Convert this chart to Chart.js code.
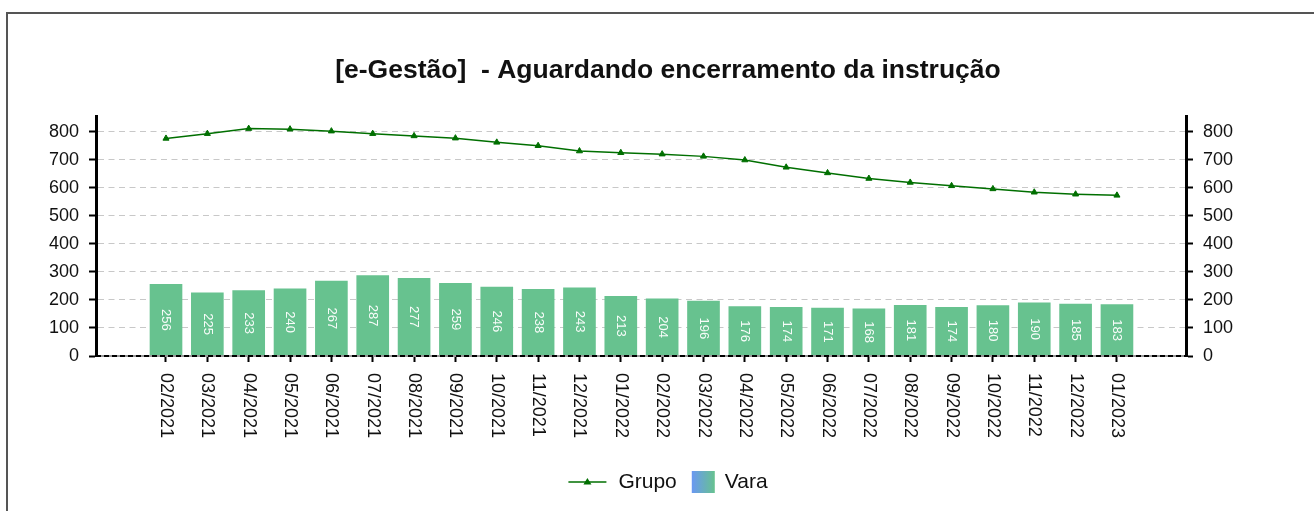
<!DOCTYPE html>
<html>
<head>
<meta charset="utf-8">
<script src="https://cdn.jsdelivr.net/npm/chart.js@4/dist/chart.umd.min.js"></script>
<style>
    html, body { margin: 0; padding: 0; background: #fff; overflow: hidden; }
    #wrap { position: relative; width: 1314px; height: 511px; }
    #frame { position: absolute; left: 6px; top: 12px; width: 1400px; height: 600px;
             border-left: 2px solid #555; border-top: 2px solid #555; }
    #chart { position: absolute; left: 0; top: 0; }
</style>
</head>
<body>
<div id="wrap">
    <div id="frame"></div>
    <canvas id="chart" width="1314" height="511"></canvas>
</div>
<script>
// Months shown on the x axis
const months = ['02/2021', '03/2021', '04/2021', '05/2021', '06/2021', '07/2021', '08/2021',
    '09/2021', '10/2021', '11/2021', '12/2021', '01/2022', '02/2022', '03/2022', '04/2022',
    '05/2022', '06/2022', '07/2022', '08/2022', '09/2022', '10/2022', '11/2022', '12/2022', '01/2023'];

// Bar series (Vara) - values printed in the bars
const varaValues = [256, 225, 233, 240, 267, 287, 277, 259, 246, 238, 243, 213,
    204, 196, 176, 174, 171, 168, 181, 174, 180, 190, 185, 183];

// Line series (Grupo)
const grupoValues = [776, 793, 811, 809, 802, 793, 785, 777, 762, 750, 731, 725,
    720, 712, 699, 673, 653, 633, 619, 607, 596, 584, 577, 573];

// Tick values for both value axes
const yTicks = [0, 100, 200, 300, 400, 500, 600, 700, 800];

const FONT = '"Liberation Sans", Arial, sans-serif';
const BAR_COLOR = '#67c28f';
const LINE_COLOR = '#006f00';

/**
 * Extra drawing: bottom axis line, rotated month labels, bar values, legend
 */
const decorPlugin = {
    id: 'decor',
    afterDatasetsDraw(chart) {
        const { ctx, chartArea, scales } = chart;
        const y0 = scales.y.getPixelForValue(0);

        // bottom axis: gray line with black dashes
        ctx.save();
        ctx.lineWidth = 2;
        ctx.strokeStyle = '#999';
        ctx.beginPath();
        ctx.moveTo(chartArea.left, y0);
        ctx.lineTo(chartArea.right, y0);
        ctx.stroke();
        ctx.strokeStyle = '#000';
        ctx.setLineDash([5, 3]);
        ctx.beginPath();
        ctx.moveTo(chartArea.left, y0);
        ctx.lineTo(chartArea.right, y0);
        ctx.stroke();
        ctx.restore();

        // values inside bars, rotated
        const bars = chart.getDatasetMeta(1).data;
        ctx.save();
        ctx.fillStyle = 'rgba(255,255,255,0.95)';
        ctx.font = '13px ' + FONT;
        ctx.textAlign = 'center';
        ctx.textBaseline = 'middle';
        bars.forEach((bar, i) => {
            ctx.save();
            ctx.translate(bar.x, (bar.y + bar.base) / 2);
            ctx.rotate(Math.PI / 2);
            ctx.fillText(String(varaValues[i]), 0, 0);
            ctx.restore();
        });
        ctx.restore();
    },
    afterDraw(chart) {
        const { ctx, chartArea, scales } = chart;

        // month labels, reading top to bottom
        ctx.save();
        ctx.fillStyle = '#111';
        ctx.font = '18px ' + FONT;
        ctx.textAlign = 'left';
        ctx.textBaseline = 'middle';
        months.forEach((m, i) => {
            ctx.save();
            ctx.translate(scales.x.getPixelForValue(i), chartArea.bottom + 17);
            ctx.rotate(Math.PI / 2);
            ctx.fillText(m, 0, 0);
            ctx.restore();
        });
        ctx.restore();

        // legend
        ctx.save();
        ctx.font = '21px ' + FONT;
        ctx.textBaseline = 'middle';
        const ly = 482;
        const wG = ctx.measureText('Grupo').width;
        const wV = ctx.measureText('Vara').width;
        const total = 38 + 12 + wG + 15 + 23 + 10 + wV;
        let lx = 668 - total / 2;

        ctx.strokeStyle = LINE_COLOR;
        ctx.lineWidth = 1.5;
        ctx.beginPath();
        ctx.moveTo(lx, ly);
        ctx.lineTo(lx + 38, ly);
        ctx.stroke();
        ctx.fillStyle = LINE_COLOR;
        ctx.beginPath();
        ctx.moveTo(lx + 19, ly - 4);
        ctx.lineTo(lx + 23, ly + 2.5);
        ctx.lineTo(lx + 15, ly + 2.5);
        ctx.closePath();
        ctx.fill();
        lx += 38 + 12;

        ctx.fillStyle = '#111';
        ctx.fillText('Grupo', lx, ly);
        lx += wG + 15;

        const grad = ctx.createLinearGradient(lx, 0, lx + 23, 0);
        grad.addColorStop(0, '#6a98f2');
        grad.addColorStop(1, BAR_COLOR);
        ctx.fillStyle = grad;
        ctx.fillRect(lx, ly - 11, 23, 22);
        lx += 23 + 10;

        ctx.fillStyle = '#111';
        ctx.fillText('Vara', lx, ly);
        ctx.restore();
    }
};

const valueAxis = (position, width) => ({
    type: 'linear',
    position: position,
    min: 0,
    max: 856,
    afterBuildTicks: (scale) => { scale.ticks = yTicks.map(v => ({ value: v })); },
    afterFit: (scale) => { scale.width = width; },
    grid: {
        drawOnChartArea: position === 'left',
        color: (c) => c.tick && c.tick.value === 0 ? 'rgba(0,0,0,0)' : '#c8c8c8',
        lineWidth: 1,
        tickLength: 7,
        tickColor: '#000',
        tickWidth: 2
    },
    border: { display: true, color: '#000', width: 3, dash: [6, 4.5] },
    ticks: { color: '#111', padding: 10, font: { family: FONT, size: 18 } }
});

new Chart(document.getElementById('chart'), {
    data: {
        datasets: [
            {
                type: 'line',
                label: 'Grupo',
                data: grupoValues.map((v, i) => ({ x: i, y: v })),
                borderColor: LINE_COLOR,
                backgroundColor: LINE_COLOR,
                borderWidth: 1.5,
                pointStyle: 'triangle',
                pointRadius: 3.5,
                pointBorderWidth: 1,
                tension: 0,
                yAxisID: 'y',
                order: 1
            },
            {
                type: 'bar',
                label: 'Vara',
                data: varaValues.map((v, i) => ({ x: i, y: v })),
                backgroundColor: BAR_COLOR,
                barThickness: 32,
                yAxisID: 'y',
                order: 2
            }
        ]
    },
    options: {
        responsive: false,
        animation: false,
        layout: { padding: { left: 22, right: 0, top: 0, bottom: 0 } },
        plugins: {
            legend: { display: false },
            tooltip: { enabled: false },
            title: {
                display: true,
                text: '[e-Gestão]  - Aguardando encerramento da instrução',
                color: '#111',
                font: { family: FONT, size: 26.5, weight: 'bold', lineHeight: 1.2 },
                padding: { top: 55, bottom: 29.2 }
            }
        },
        scales: {
            x: {
                type: 'linear',
                offset: false,
                min: -1.693,
                max: 24.67,
                afterBuildTicks: (scale) => { scale.ticks = months.map((m, i) => ({ value: i })); },
                afterFit: (scale) => { scale.height = 155; },
                grid: { offset: false, drawOnChartArea: false, drawTicks: true, tickLength: 6, tickColor: '#000', tickWidth: 2 },
                border: { display: false },
                ticks: { display: false }
            },
            y: valueAxis('left', 74),
            y1: valueAxis('right', 128)
        }
    },
    plugins: [decorPlugin]
});
</script>
</body>
</html>
